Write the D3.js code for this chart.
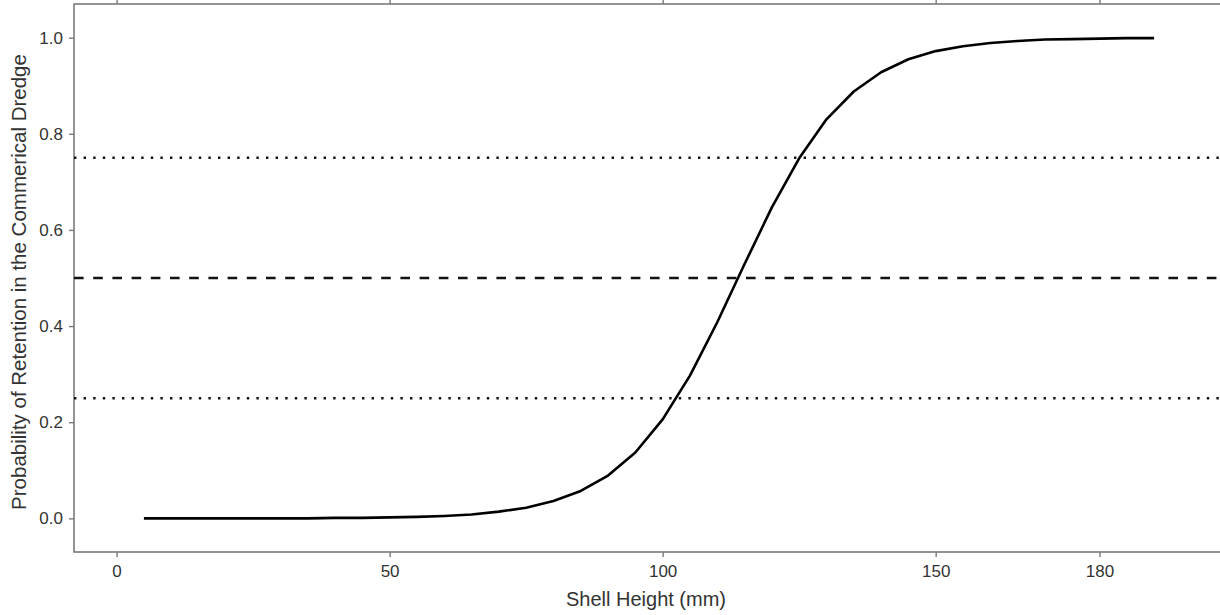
<!DOCTYPE html>
<html>
<head>
<meta charset="utf-8">
<script src="https://cdn.jsdelivr.net/npm/d3@7"></script>
<style>
  html, body { margin: 0; padding: 0; background: #fff; }
  svg { display: block; }
  text { font-family: "Liberation Sans", Arial, sans-serif; fill: #333; }
</style>
</head>
<body>
<svg id="chart" width="1220" height="615"></svg>
<script>
// Shell heights (mm) at which the retention curve is evaluated
const shellHeight = [5, 10, 15, 20, 25, 30, 35, 40, 45, 50, 55, 60, 65, 70, 75, 80, 85, 90, 95,
  100, 105, 110, 115, 120, 125, 130, 135, 140, 145, 150, 155, 160, 165, 170, 175, 180, 185, 190];
// Probability of retention in the commercial dredge at each shell height
const retention = [0.000, 0.000, 0.000, 0.000, 0.000, 0.000, 0.000, 0.001, 0.001, 0.002, 0.003,
  0.005, 0.008, 0.014, 0.022, 0.036, 0.057, 0.089, 0.137, 0.206, 0.297, 0.408, 0.529, 0.647,
  0.749, 0.830, 0.888, 0.928, 0.955, 0.972, 0.982, 0.989, 0.993, 0.996, 0.997, 0.998, 0.999, 0.999];

const xTicks = [0, 50, 100, 150, 180];
const yTicks = [0.0, 0.2, 0.4, 0.6, 0.8, 1.0];
// Reference probability levels: 25%, 50% (L50) and 75% retention
const refLevels = [0.25, 0.5, 0.75];
const refKinds = ["dotted", "dashed", "dotted"];

const xTitle = "Shell Height (mm)";
const yTitle = "Probability of Retention in the Commerical Dredge";

const svg = d3.select("#chart");
const plotL = 74, plotT = 4, plotB = 552, plotR = 1224;

const x = d3.scaleLinear().domain([-7.8, 202.8]).range([plotL, plotR]);
const y = d3.scaleLinear().domain([-0.07, 1.07]).range([plotB, plotT]);

const axisColor = "#7a7a7a";

// Plot frame
svg.append("rect")
  .attr("x", plotL).attr("y", plotT)
  .attr("width", plotR - plotL).attr("height", plotB - plotT)
  .attr("fill", "none").attr("stroke", axisColor).attr("stroke-width", 1.6);

function styleAxis(g) {
  g.select(".domain").remove();
  g.selectAll(".tick line").attr("stroke", axisColor).attr("stroke-width", 1.4);
  g.selectAll(".tick text").attr("fill", "#333").style("font-size", "17px")
    .style("font-family", "'Liberation Sans', Arial, sans-serif");
}

svg.append("g")
  .attr("transform", `translate(0,${plotB})`)
  .call(d3.axisBottom(x).tickValues(xTicks).tickSize(5).tickPadding(8).tickFormat(d3.format("d")))
  .call(styleAxis);

svg.append("g")
  .attr("transform", `translate(0,${plotT})`)
  .call(d3.axisTop(x).tickValues(xTicks).tickSize(5).tickFormat(""))
  .call(styleAxis);

svg.append("g")
  .attr("transform", `translate(${plotL},0)`)
  .call(d3.axisLeft(y).tickValues(yTicks).tickSize(5).tickPadding(6).tickFormat(d3.format(".1f")))
  .call(styleAxis);

// Horizontal reference lines
const dash = { dotted: "2.4,7.2", dashed: "9.6,9.6" };
svg.append("g").selectAll("line")
  .data(refLevels)
  .join("line")
  .attr("x1", plotL).attr("x2", plotR)
  .attr("y1", d => y(d)).attr("y2", d => y(d))
  .attr("stroke", "#111")
  .attr("stroke-width", 2.4)
  .attr("stroke-dasharray", (d, i) => dash[refKinds[i]]);

// Retention curve
const pts = shellHeight.map((h, i) => [h, retention[i]]);
svg.append("path")
  .datum(pts)
  .attr("fill", "none")
  .attr("stroke", "#000")
  .attr("stroke-width", 2.6)
  .attr("stroke-linejoin", "round")
  .attr("d", d3.line().x(d => x(d[0])).y(d => y(d[1])));

// Axis titles
svg.append("text")
  .attr("x", (plotL + plotR) / 2 - 3)
  .attr("y", 606)
  .attr("text-anchor", "middle")
  .style("font-size", "20px")
  .text(xTitle);

svg.append("text")
  .attr("transform", `translate(26,${(plotT + plotB) / 2 + 4}) rotate(-90)`)
  .attr("text-anchor", "middle")
  .style("font-size", "20.5px")
  .text(yTitle);
</script>
</body>
</html>
